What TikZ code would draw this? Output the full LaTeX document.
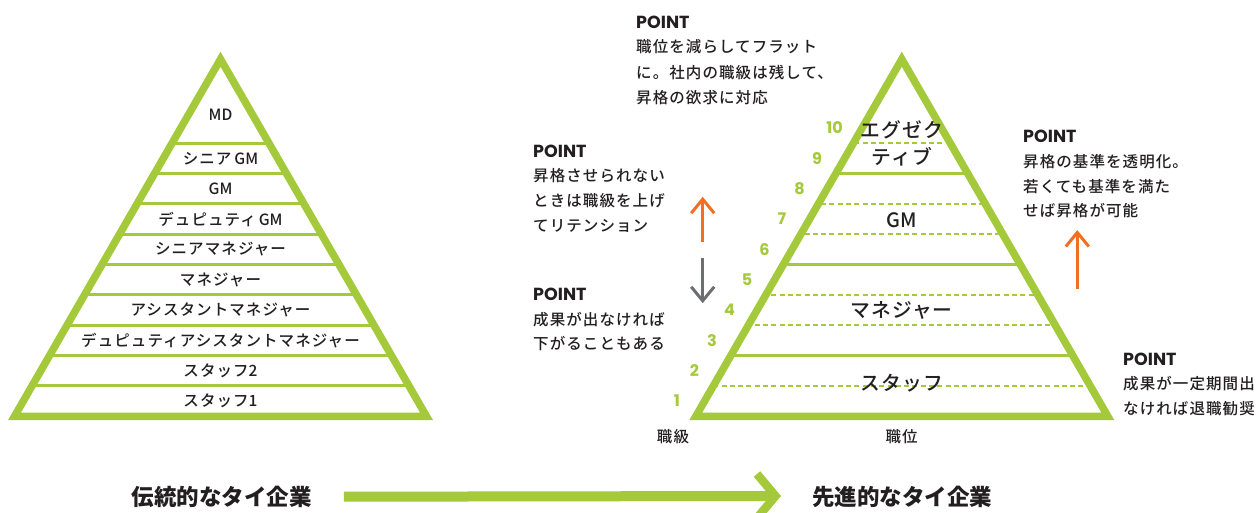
\documentclass[tikz,border=0pt]{standalone}
\usepackage{fontspec}
\IfFontExistsTF{Noto Sans CJK JP Medium}{\def\jpname{Noto Sans CJK JP Medium}}{\def\jpname{Noto Sans CJK JP}}
\setmainfont{Noto Sans CJK JP}
\newfontfamily\jpbody[LetterSpace=7]{\jpname}
\newfontfamily\jpbig[LetterSpace=5]{\jpname}
\newfontfamily\jplat{\jpname}
\newfontfamily\jpbf{Noto Sans CJK JP}
\newfontfamily\pop{Poppins}
\definecolor{grn}{HTML}{A4C93B}
\definecolor{ink}{HTML}{231F20}
\definecolor{org}{HTML}{F26E22}
\definecolor{gry}{HTML}{6D6E70}
\newcommand{\lat}[1]{{\jplat #1}}
\tikzset{
  pyr/.style={draw=grn, line width=7.5pt, line join=miter, miter limit=20},
  solidlvl/.style={draw=grn, line width=3pt},
  dashlvl/.style={draw=grn, line width=2pt, dash pattern=on 5pt off 3.3pt},
  body/.style={font=\jpbody\fontsize{15.5}{25}\selectfont, text=ink, inner sep=0pt},
  hd/.style={font=\pop\bfseries\fontsize{17.5}{17.5}\selectfont, text=ink, inner sep=0pt, anchor=west},
  bigl/.style={font=\jpbig\fontsize{19.8}{27.3}\selectfont, text=ink, inner sep=0pt, align=center},
  num/.style={font=\pop\bfseries\fontsize{16}{16}\selectfont, text=grn, inner sep=0pt},
  ttl/.style={font=\jpbf\bfseries\fontsize{22.5}{22.5}\selectfont, text=ink, inner sep=0pt},
  thinarrow/.style={line width=3pt, line join=miter},
}
\begin{document}
\begin{tikzpicture}[x=1pt,y=-1pt]
\useasboundingbox[fill=white] (0,0) rectangle (1259,513);

% ---------- left pyramid ----------
\coordinate (LA) at (220.5,59.2);
\coordinate (LL) at (14.5,416.3);
\coordinate (LR) at (426.5,416.3);
\begin{scope}
  \clip (LA) -- (LL) -- (LR) -- cycle;
  \foreach \k in {1,...,9}{
    \pgfmathsetmacro\yy{416.3-30.33*\k}
    \draw[solidlvl] (0,\yy) -- (440,\yy);
  }
\end{scope}
\draw[pyr] (LA) -- (LL) -- (LR) -- cycle;
\foreach \k/\t in {1/スタッフ\lat{1}, 2/スタッフ\lat{2}, 3/デュピュティアシスタントマネジャー,
  4/アシスタントマネジャー, 5/マネジャー, 6/シニアマネジャー, 7/デュピュティ\hspace{3pt}\lat{GM},
  8/\lat{GM}, 9/シニア\hspace{3pt}\lat{GM}}{
  \pgfmathsetmacro\yy{401-30.33*(\k-1)}
  \node[body] (L\k) at (220.5,\yy) {\t};
}
\node[body] (L10) at (220.5,115) {\lat{MD}};

% ---------- right pyramid ----------
\coordinate (RA) at (901.8,59.2);
\coordinate (RL) at (695.8,416.3);
\coordinate (RR) at (1107.8,416.3);
\begin{scope}
  \clip (RA) -- (RL) -- (RR) -- cycle;
  \foreach \k in {1,3,4,6,7,9}{
    \pgfmathsetmacro\yy{round(416.3-30.33*\k)}
    \draw[dashlvl] (680,\yy) -- (1120,\yy);
  }
  \foreach \k in {2,5,8}{
    \pgfmathsetmacro\yy{416.3-30.33*\k}
    \draw[solidlvl] (680,\yy) -- (1120,\yy);
  }
\end{scope}
\draw[pyr] (RA) -- (RL) -- (RR) -- cycle;
\node[bigl] (rexec) at (901.8,143.7) {エグゼク\\ティブ};
\node[bigl] (rgm) at (901.8,220) {\lat{GM}};
\node[bigl] (rmgr) at (901.8,310.7) {マネジャー};
\node[bigl] (rstaff) at (901.8,383.5) {スタッフ};
\foreach \k in {1,...,10}{
  \pgfmathsetmacro\yy{401-30.33*(\k-1)}
  \pgfmathsetmacro\xx{901.8-0.5774*(\yy-59.2)-27.5}
  \node[num] (n\k) at (\xx,\yy) {\k};
}
\node[body] (kyu) at (673,436.7) {職級};
\node[body] (ii) at (901.7,436.7) {職位};

% ---------- POINT blocks ----------
\node[hd] (p1) at (636,22) {POINT};
\node[body,anchor=west] (p1a) at (636,47) {職位を減らしてフラット};
\node[body,anchor=west] (p1b) at (636,72.5) {に。社内の職級は残して、};
\node[body,anchor=west] (p1c) at (636,97.5) {昇格の欲求に対応};

\node[hd] (p2) at (533,151.7) {POINT};
\node[body,anchor=west] (p2a) at (533,175.5) {昇格させられない};
\node[body,anchor=west] (p2b) at (533,200.5) {ときは職級を上げ};
\node[body,anchor=west] (p2c) at (533,225.5) {てリテンション};

\node[hd] (p3) at (533,294.5) {POINT};
\node[body,anchor=west] (p3a) at (533,319.5) {成果が出なければ};
\node[body,anchor=west] (p3b) at (533,343.5) {下がることもある};

\node[hd] (p4) at (1023,136.7) {POINT};
\node[body,anchor=west] (p4a) at (1023,161.7) {昇格の基準を透明化。};
\node[body,anchor=west] (p4b) at (1023,186.5) {若くても基準を満た};
\node[body,anchor=west] (p4c) at (1023,211) {せば昇格が可能};

\node[hd] (p5) at (1123,359) {POINT};
\node[body,anchor=west] (p5a) at (1123,384) {成果が一定期間出};
\node[body,anchor=west] (p5b) at (1123,408.5) {なければ退職勧奨};

% ---------- small arrows ----------
\coordinate (oa0) at (702.7,242);
\coordinate (oa1) at (702.7,199.2);
\draw[thinarrow,draw=org] (oa0) -- (oa1);
\draw[thinarrow,draw=org] (oa1) ++(-11.5,14) -- (oa1) -- ++(11.5,14);

\coordinate (ga0) at (702.7,258.3);
\coordinate (ga1) at (702.7,300.8);
\draw[thinarrow,draw=gry] (ga0) -- (ga1);
\draw[thinarrow,draw=gry] (ga1) ++(-11.5,-14) -- (ga1) -- ++(11.5,-14);

\coordinate (ob0) at (1077.3,289.3);
\coordinate (ob1) at (1077.3,232.5);
\draw[thinarrow,draw=org] (ob0) -- (ob1);
\draw[thinarrow,draw=org] (ob1) ++(-11.5,14) -- (ob1) -- ++(11.5,14);

% ---------- bottom ----------
\node[ttl] (trad) at (221.7,496.7) {伝統的なタイ企業};
\node[ttl] (adv) at (902,496.7) {先進的なタイ企業};
\coordinate (bs) at ([xshift=32pt]trad.east);
\coordinate (bt) at (775.5,496);
\draw[draw=grn, line width=10pt] (bs) -- ([xshift=-3pt]bt);
\draw[draw=grn, line width=8.5pt, line join=miter] (bt) ++(-18.5,-22) -- (bt) -- ++(-18.5,22);
\end{tikzpicture}
\end{document}
